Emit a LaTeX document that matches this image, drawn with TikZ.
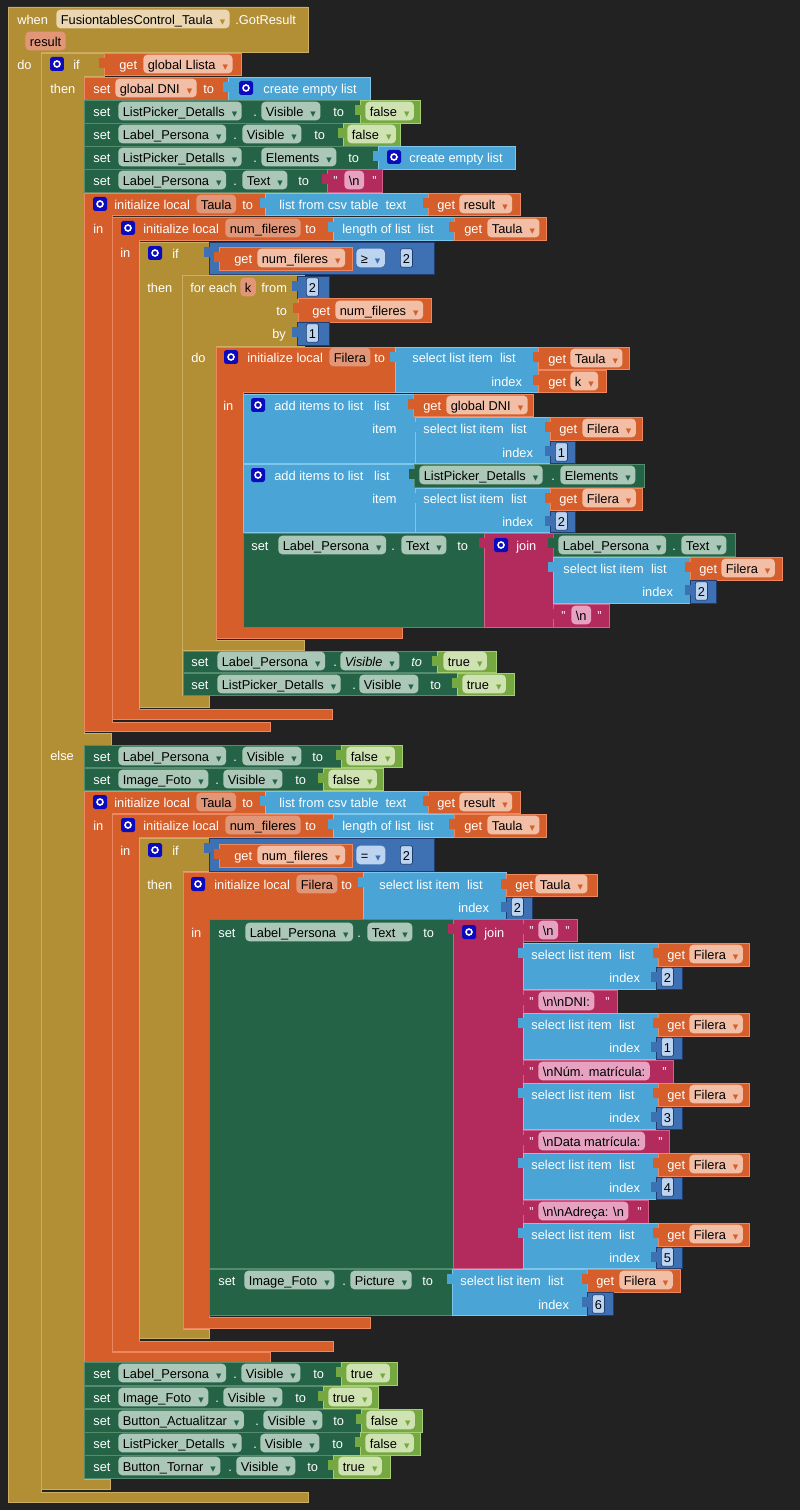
\documentclass[tikz,border=0pt]{standalone}
\usepackage{fontspec}
\setmainfont{Liberation Sans}
\newfontfamily\symf{DejaVu Sans}
\definecolor{bgcol}{RGB}{34,34,34}
\definecolor{evtcol}{RGB}{178,142,53}
\definecolor{evtedge}{RGB}{205,175,100}
\definecolor{varcol}{RGB}{214,94,42}
\definecolor{varedge}{RGB}{236,135,95}
\definecolor{cmpcol}{RGB}{36,99,70}
\definecolor{cmpedge}{RGB}{85,140,110}
\definecolor{lgcol}{RGB}{118,168,66}
\definecolor{lgedge}{RGB}{165,205,115}
\definecolor{lstcol}{RGB}{74,165,214}
\definecolor{lstedge}{RGB}{125,198,236}
\definecolor{numcol}{RGB}{62,112,180}
\definecolor{numedge}{RGB}{30,60,110}
\definecolor{txtcol}{RGB}{179,42,92}
\definecolor{txtedge}{RGB}{212,95,138}
\definecolor{gearcol}{RGB}{10,10,190}
\definecolor{pillor}{RGB}{242,190,166}
\definecolor{pillpar}{RGB}{226,150,120}
\definecolor{pillcmp}{RGB}{170,199,183}
\definecolor{pilllog}{RGB}{207,226,178}
\definecolor{pilltxt}{RGB}{230,162,192}
\definecolor{pillevt}{RGB}{234,214,176}
\definecolor{pillmath}{RGB}{188,212,240}
\newcommand{\bfont}{\fontsize{7.3}{8}\selectfont}
\newcommand{\dd}[1]{\hspace{0.55em}{\symf\fontsize{4}{5}\selectfont\textcolor{#1}{▼}}}
% value block with its left tab
\newcommand{\vb}[5]{\draw[#1] (#2,#3) rectangle (#4,#5); \fill[#1,draw=none] (#2-5,#3+5) rectangle (#2+1,#3+15);}
\begin{document}
\begin{tikzpicture}[x=0.02cm, y=-0.02cm,
    lbl/.style={anchor=west, inner sep=0, text=white, font=\bfont, text height=1.6ex, text depth=.4ex},
    pill/.style={anchor=west, inner xsep=0.09cm, inner ysep=0, minimum height=0.3cm, rounded corners=0.08cm,
      text=black, font=\bfont, text height=1.6ex, text depth=.4ex},
    pillO/.style={pill, fill=pillor},
    pillP/.style={pill, fill=pillpar},
    pillC/.style={pill, fill=pillcmp},
    pillL/.style={pill, fill=pilllog},
    pillT/.style={pill, fill=pilltxt},
    pillE/.style={pill, fill=pillevt},
    pillM/.style={pill, fill=pillmath},
    numpill/.style={pill, fill=pillmath, draw=numedge, rounded corners=0.04cm, inner xsep=0.05cm},
    gear/.style={fill=gearcol, rounded corners=1pt, minimum size=0.28cm, inner sep=0,
      path picture={\draw[white, line width=0.9pt] (path picture bounding box.center) circle (0.06cm);}},
    evt/.style={fill=evtcol, draw=evtedge, line width=.3pt},
    var/.style={fill=varcol, draw=varedge, line width=.3pt},
    cmp/.style={fill=cmpcol, draw=cmpedge, line width=.3pt},
    lgc/.style={fill=lgcol, draw=lgedge, line width=.3pt},
    lst/.style={fill=lstcol, draw=lstedge, line width=.3pt},
    num/.style={fill=numcol, draw=numedge, line width=.3pt},
    txt/.style={fill=txtcol, draw=txtedge, line width=.3pt}]
  \fill[bgcol] (0,0) rectangle (800,1510);
  % event and outer if
  \draw[evt] (8,7) -- (308,7) -- (308,52) -- (41,52) -- (41,1492) -- (308,1492) -- (308,1502) -- (8,1502) -- cycle;
  \node[lbl] (when) at (17,19) {when};
  \node[pillE] (evcomp) at (56,19) {FusiontablesControl\_Taula\dd{evtcol}};
  \node[lbl] (gotres) at (235,19) {.GotResult};
  \node[pillP] (res) at (25,41) {result};
  \node[lbl] (do0) at (17,64) {do};
  \draw[evt] (41,53) -- (104,53) -- (104,76) -- (84,76) -- (84,733) -- (111,733) -- (111,745) -- (84,745)
    -- (84,1479) -- (110,1479) -- (110,1489) -- (41,1489) -- cycle;
  \node[gear] (gif0) at (57,64) {};
  \node[lbl] (if0) at (73,64) {if};
  \vb{var}{104}{53}{241}{75}
  \node[lbl] (gLl) at (119,64) {get};
  \node[pillO] (pLl) at (143,64) {global Llista\dd{varcol}};
  \node[lbl] (then0) at (50,88) {then};
  % then: first setters
  \draw[var] (84,77) rectangle (228,100);
  \node[lbl] (sA) at (93,88) {set};
  \node[pillO] (pA) at (115,88) {global DNI\dd{varcol}};
  \node[lbl] (tA) at (203,88) {to};
  \vb{lst}{228}{77}{370}{100}
  \node[gear] (gA) at (246,88) {};
  \node[lbl] (cA) at (263,88) {create empty list};
  \draw[cmp] (84,100) rectangle (360,123);
  \node[lbl] (sB) at (93,111) {set};
  \node[pillC] (pB) at (118,111) {ListPicker\_Detalls\dd{cmpcol}};
  \node[lbl] (dB) at (253,111) {.};
  \node[pillC] (qB) at (261,111) {Visible\dd{cmpcol}};
  \node[lbl] (tB) at (333,111) {to};
  \vb{lgc}{360}{100}{420}{123}
  \node[pillL] (lB) at (365,111) {false\dd{lgcol}};
  \draw[cmp] (84,123) rectangle (343,146);
  \node[lbl] (sC) at (93,134) {set};
  \node[pillC] (pC) at (118,134) {Label\_Persona\dd{cmpcol}};
  \node[lbl] (dC) at (233,134) {.};
  \node[pillC] (qC) at (242,134) {Visible\dd{cmpcol}};
  \node[lbl] (tC) at (314,134) {to};
  \vb{lgc}{343}{123}{400}{146}
  \node[pillL] (lC) at (347,134) {false\dd{lgcol}};
  \draw[cmp] (84,146) rectangle (378,169);
  \node[lbl] (sD) at (93,157) {set};
  \node[pillC] (pD) at (118,157) {ListPicker\_Detalls\dd{cmpcol}};
  \node[lbl] (dD) at (253,157) {.};
  \node[pillC] (qD) at (261,157) {Elements\dd{cmpcol}};
  \node[lbl] (tD) at (348,157) {to};
  \vb{lst}{378}{146}{515}{169}
  \node[gear] (gD) at (394,157) {};
  \node[lbl] (cD) at (409,157) {create empty list};
  \draw[cmp] (84,169) rectangle (327,192);
  \node[lbl] (sE) at (93,180) {set};
  \node[pillC] (pE) at (118,180) {Label\_Persona\dd{cmpcol}};
  \node[lbl] (dE) at (233,180) {.};
  \node[pillC] (qE) at (242,180) {Text\dd{cmpcol}};
  \node[lbl] (tE) at (298,180) {to};
  \vb{txt}{327}{169}{382}{192}
  \node[lbl] (oE) at (333,180) {"};
  \node[pillT] (xE) at (344,180) {\textbackslash n};
  \node[lbl] (cE) at (372,180) {"};
  % then: local Taula
  \draw[var] (84,193) -- (265,193) -- (265,215) -- (112,215) -- (112,722) -- (270,722) -- (270,731) -- (84,731) -- cycle;
  \node[gear] (gTa) at (100,204) {};
  \node[lbl] (iTa) at (114,204) {initialize local};
  \node[pillP] (pTa) at (196,204) {Taula};
  \node[lbl] (tTa) at (242,204) {to};
  \vb{lst}{265}{193}{428}{215}
  \node[lbl] (cTa) at (279,204) {list from csv table\ \ text};
  \vb{var}{428}{193}{520}{215}
  \node[lbl] (gRe) at (437,204) {get};
  \node[pillO] (pRe) at (459,204) {result\dd{varcol}};
  \node[lbl] (inTa) at (93,228) {in};
  \draw[var] (112,217) -- (333,217) -- (333,240) -- (139,240) -- (139,709) -- (332,709) -- (332,719) -- (112,719) -- cycle;
  \node[gear] (gNf) at (128,228) {};
  \node[lbl] (iNf) at (143,228) {initialize local};
  \node[pillP] (pNf) at (225,228) {num\_fileres};
  \node[lbl] (tNf) at (305,228) {to};
  \vb{lst}{333}{217}{454}{240}
  \node[lbl] (lNf) at (342,228) {length of list\ \ list};
  \vb{var}{454}{217}{546}{240}
  \node[lbl] (gNt) at (464,228) {get};
  \node[pillO] (pNt) at (487,228) {Taula\dd{varcol}};
  \node[lbl] (inNf) at (120,252) {in};
  % then: inner if
  \draw[evt] (139,242) -- (209,242) -- (209,275) -- (182,275) -- (182,695) -- (209,695) -- (209,707) -- (139,707) -- cycle;
  \node[gear] (gif1) at (155,253) {};
  \node[lbl] (if1) at (172,253) {if};
  \vb{num}{209}{242}{434}{274}
  \vb{var}{219}{247}{352}{270}
  \node[lbl] (gC1) at (234,258) {get};
  \node[pillO] (pC1) at (257,258) {num\_fileres\dd{varcol}};
  \node[pillM] (oC1) at (356,258) {≥\dd{numcol}};
  \node[numpill] (nC1) at (400,258) {2};
  \node[lbl] (then1) at (147,287) {then};
  % then: for each
  \draw[evt] (182,275) -- (304,275) -- (304,346) -- (216,346) -- (216,640) -- (304,640) -- (304,650) -- (182,650) -- cycle;
  \node[lbl] (fe) at (190,287) {for each};
  \node[pillP] (pk) at (240,287) {k};
  \node[lbl] (fr) at (261,287) {from};
  \vb{num}{297}{276}{329}{298}
  \node[numpill] (nfr) at (306,287) {2};
  \node[lbl] (fto) at (276,310) {to};
  \vb{var}{298}{298}{431}{322}
  \node[lbl] (gto) at (312,310) {get};
  \node[pillO] (pto) at (335,310) {num\_fileres\dd{varcol}};
  \node[lbl] (fby) at (272,333) {by};
  \vb{num}{297}{322}{329}{345}
  \node[numpill] (nby) at (306,333) {1};
  \node[lbl] (fdo) at (191,357) {do};
  % then: local Filera
  \draw[var] (216,347) -- (395,347) -- (395,392) -- (243,392) -- (243,627) -- (402,627) -- (402,638) -- (216,638) -- cycle;
  \node[gear] (gFi) at (231,357) {};
  \node[lbl] (iFi) at (247,357) {initialize local};
  \node[pillP] (pFi) at (329,357) {Filera};
  \node[lbl] (tFi) at (374,357) {to};
  \vb{lst}{395}{347}{538}{392}
  \node[lbl] (sFi) at (412,357) {select list item\ \ list};
  \node[lbl] (xFi) at (491,381) {index};
  \vb{var}{538}{347}{629}{369}
  \node[lbl] (gFt) at (548,358) {get};
  \node[pillO] (pFt) at (570,358) {Taula\dd{varcol}};
  \vb{var}{538}{370}{606}{392}
  \node[lbl] (gFk) at (548,381) {get};
  \node[pillO] (pFk) at (570,381) {k\dd{varcol}};
  \node[lbl] (inFi) at (223,405) {in};
  % add items 1
  \draw[lst] (243,394) rectangle (415,463);
  \node[gear] (gAd1) at (258,405) {};
  \node[lbl] (aAd1) at (274,405) {add items to list\ \ \ list};
  \node[lbl] (iAd1) at (372,428) {item};
  \vb{var}{413}{394}{533}{416}
  \node[lbl] (gDn) at (423,405) {get};
  \node[pillO] (pDn) at (446,405) {global DNI\dd{varcol}};
  \vb{lst}{415}{417}{550}{463}
  \node[lbl] (sAd1) at (423,428) {select list item\ \ list};
  \node[lbl] (xAd1) at (502,452) {index};
  \vb{var}{550}{417}{642}{440}
  \node[lbl] (gAf1) at (559,428) {get};
  \node[pillO] (pAf1) at (582,428) {Filera\dd{varcol}};
  \vb{num}{550}{441}{575}{463}
  \node[numpill] (nAd1) at (555,452) {1};
  % add items 2
  \draw[lst] (243,464) rectangle (415,532);
  \node[gear] (gAd2) at (258,475) {};
  \node[lbl] (aAd2) at (274,475) {add items to list\ \ \ list};
  \node[lbl] (iAd2) at (372,498) {item};
  \vb{cmp}{414}{464}{644}{487}
  \node[pillC] (pEl) at (419,475) {ListPicker\_Detalls\dd{cmpcol}};
  \node[lbl] (dEl) at (551,475) {.};
  \node[pillC] (qEl) at (560,475) {Elements\dd{cmpcol}};
  \vb{lst}{415}{488}{550}{532}
  \node[lbl] (sAd2) at (423,498) {select list item\ \ list};
  \node[lbl] (xAd2) at (502,521) {index};
  \vb{var}{550}{488}{642}{510}
  \node[lbl] (gAf2) at (559,498) {get};
  \node[pillO] (pAf2) at (582,498) {Filera\dd{varcol}};
  \vb{num}{550}{511}{575}{532}
  \node[numpill] (nAd2) at (555,521) {2};
  % set text with join
  \draw[cmp] (243,533) rectangle (484,627);
  \node[lbl] (sJ1) at (251,545) {set};
  \node[pillC] (pJ1) at (278,545) {Label\_Persona\dd{cmpcol}};
  \node[lbl] (dJ1) at (391,545) {.};
  \node[pillC] (qJ1) at (401,545) {Text\dd{cmpcol}};
  \node[lbl] (tJ1) at (457,545) {to};
  \vb{txt}{484}{533}{553}{627}
  \node[gear] (gJ1) at (501,545) {};
  \node[lbl] (jJ1) at (516,545) {join};
  \vb{cmp}{553}{533}{735}{556}
  \node[pillC] (pJ1b) at (558,545) {Label\_Persona\dd{cmpcol}};
  \node[lbl] (dJ1b) at (672,545) {.};
  \node[pillC] (qJ1b) at (681,545) {Text\dd{cmpcol}};
  \vb{lst}{553}{557}{690}{603}
  \node[lbl] (sJ1c) at (563,568) {select list item\ \ list};
  \node[lbl] (xJ1c) at (642,591) {index};
  \vb{var}{690}{557}{782}{580}
  \node[lbl] (gJ1c) at (699,568) {get};
  \node[pillO] (pJ1c) at (721,568) {Filera\dd{varcol}};
  \vb{num}{690}{580}{716}{603}
  \node[numpill] (nJ1c) at (695,591) {2};
  \vb{txt}{553}{604}{609}{627}
  \node[lbl] (oJ1d) at (561,615) {"};
  \node[pillT] (xJ1d) at (571,615) {\textbackslash n};
  \node[lbl] (cJ1d) at (597,615) {"};
  % after the loop
  \draw[cmp] (183,651) rectangle (437,672);
  \node[lbl] (sF) at (191,661) {set};
  \node[pillC] (pF) at (217,661) {Label\_Persona\dd{cmpcol}};
  \node[lbl] (dF) at (333,661) {.};
  \node[pillC] (qF) at (340,661) {\itshape Visible\dd{cmpcol}};
  \node[lbl] (tF) at (411,661) {\itshape to};
  \vb{lgc}{437}{651}{496}{672}
  \node[pillL] (lF) at (443,661) {true\dd{lgcol}};
  \draw[cmp] (183,673) rectangle (457,695);
  \node[lbl] (sG) at (191,684) {set};
  \node[pillC] (pG) at (217,684) {ListPicker\_Detalls\dd{cmpcol}};
  \node[lbl] (dG) at (352,684) {.};
  \node[pillC] (qG) at (359,684) {Visible\dd{cmpcol}};
  \node[lbl] (tG) at (430,684) {to};
  \vb{lgc}{457}{673}{514}{695}
  \node[pillL] (lG) at (462,684) {true\dd{lgcol}};
  % else
  \node[lbl] (else0) at (50,755) {else};
  \draw[cmp] (84,745) rectangle (341,767);
  \node[lbl] (sH) at (93,756) {set};
  \node[pillC] (pH) at (118,756) {Label\_Persona\dd{cmpcol}};
  \node[lbl] (dH) at (233,756) {.};
  \node[pillC] (qH) at (242,756) {Visible\dd{cmpcol}};
  \node[lbl] (tH) at (312,756) {to};
  \vb{lgc}{341}{745}{402}{767}
  \node[pillL] (lH) at (346,756) {false\dd{lgcol}};
  \draw[cmp] (84,768) rectangle (323,790);
  \node[lbl] (sI) at (93,779) {set};
  \node[pillC] (pI) at (118,779) {Image\_Foto\dd{cmpcol}};
  \node[lbl] (dI) at (215,779) {.};
  \node[pillC] (qI) at (223,779) {Visible\dd{cmpcol}};
  \node[lbl] (tI) at (295,779) {to};
  \vb{lgc}{323}{768}{383}{790}
  \node[pillL] (lI) at (328,779) {false\dd{lgcol}};
  % else: local Taula
  \draw[var] (84,791) -- (265,791) -- (265,813) -- (112,813) -- (112,1352) -- (270,1352) -- (270,1362) -- (84,1362) -- cycle;
  \node[gear] (gTb) at (100,802) {};
  \node[lbl] (iTb) at (114,802) {initialize local};
  \node[pillP] (pTb) at (196,802) {Taula};
  \node[lbl] (tTb) at (242,802) {to};
  \vb{lst}{265}{791}{428}{813}
  \node[lbl] (cTb) at (279,802) {list from csv table\ \ text};
  \vb{var}{428}{791}{520}{813}
  \node[lbl] (gRb) at (437,802) {get};
  \node[pillO] (pRb) at (459,802) {result\dd{varcol}};
  \node[lbl] (inTb) at (93,825) {in};
  \draw[var] (112,814) -- (333,814) -- (333,837) -- (139,837) -- (139,1341) -- (333,1341) -- (333,1351) -- (112,1351) -- cycle;
  \node[gear] (gNb) at (128,825) {};
  \node[lbl] (iNb) at (143,825) {initialize local};
  \node[pillP] (pNb) at (225,825) {num\_fileres};
  \node[lbl] (tNb) at (305,825) {to};
  \vb{lst}{333}{814}{454}{837}
  \node[lbl] (lNb) at (342,825) {length of list\ \ list};
  \vb{var}{454}{814}{546}{837}
  \node[lbl] (gNbt) at (464,825) {get};
  \node[pillO] (pNbt) at (487,825) {Taula\dd{varcol}};
  \node[lbl] (inNb) at (120,850) {in};
  % else: inner if
  \draw[evt] (139,838) -- (209,838) -- (209,871) -- (183,871) -- (183,1329) -- (209,1329) -- (209,1338) -- (139,1338) -- cycle;
  \node[gear] (gif2) at (155,850) {};
  \node[lbl] (if2) at (172,850) {if};
  \vb{num}{209}{838}{434}{871}
  \vb{var}{219}{844}{352}{867}
  \node[lbl] (gC2) at (234,855) {get};
  \node[pillO] (pC2) at (257,855) {num\_fileres\dd{varcol}};
  \node[pillM] (oC2) at (356,855) {=\dd{numcol}};
  \node[numpill] (nC2) at (400,855) {2};
  \node[lbl] (then2) at (147,884) {then};
  % else: local Filera
  \draw[var] (183,872) -- (363,872) -- (363,919) -- (209,919) -- (209,1317) -- (370,1317) -- (370,1328) -- (183,1328) -- cycle;
  \node[gear] (gFb) at (198,884) {};
  \node[lbl] (iFb) at (214,884) {initialize local};
  \node[pillP] (pFb) at (296,884) {Filera};
  \node[lbl] (tFb) at (341,884) {to};
  \vb{lst}{363}{872}{506}{919}
  \node[lbl] (sFb) at (379,884) {select list item\ \ list};
  \node[lbl] (xFb) at (458,907) {index};
  \vb{var}{506}{874}{597}{896}
  \node[lbl] (gFbt) at (515,884) {get};
  \node[pillO] (pFbt) at (535,884) {Taula\dd{varcol}};
  \vb{num}{506}{897}{532}{919}
  \node[numpill] (nFb) at (511,907) {2};
  \node[lbl] (inFb) at (191,932) {in};
  % else: set text with long join
  \draw[cmp] (209,919) rectangle (453,1268);
  \node[lbl] (sJ2) at (218,932) {set};
  \node[pillC] (pJ2) at (245,932) {Label\_Persona\dd{cmpcol}};
  \node[lbl] (dJ2) at (357,932) {.};
  \node[pillC] (qJ2) at (367,932) {Text\dd{cmpcol}};
  \node[lbl] (tJ2) at (423,932) {to};
  \vb{txt}{453}{919}{523}{1268}
  \node[gear] (gJ2) at (469,932) {};
  \node[lbl] (jJ2) at (484,932) {join};
  \vb{txt}{523}{919}{577}{941}
  \node[lbl] (oK0) at (529,930) {"};
  \node[pillT] (xK0) at (538,930) {\textbackslash n};
  \node[lbl] (cK0) at (565,930) {"};
  \vb{lst}{523}{943}{658}{989}
  \node[lbl] (sK1) at (531,954) {select list item\ \ list};
  \node[lbl] (xK1) at (609,977) {index};
  \vb{var}{658}{943}{749}{966}
  \node[lbl] (gK1) at (667,954) {get};
  \node[pillO] (pK1) at (689,954) {Filera\dd{varcol}};
  \vb{num}{656}{967}{682}{989}
  \node[numpill] (nK1) at (661,977) {2};
  \vb{txt}{523}{990}{617}{1013}
  \node[lbl] (oK2) at (529,1001) {"};
  \node[pillT] (xK2) at (538,1001) {\textbackslash n\textbackslash nDNI:};
  \node[lbl] (cK2) at (605,1001) {"};
  \vb{lst}{523}{1013}{658}{1059}
  \node[lbl] (sK3) at (531,1024) {select list item\ \ list};
  \node[lbl] (xK3) at (609,1047) {index};
  \vb{var}{658}{1013}{749}{1036}
  \node[lbl] (gK3) at (667,1024) {get};
  \node[pillO] (pK3) at (689,1024) {Filera\dd{varcol}};
  \vb{num}{656}{1037}{682}{1059}
  \node[numpill] (nK3) at (661,1047) {1};
  \vb{txt}{523}{1060}{673}{1083}
  \node[lbl] (oK4) at (529,1071) {"};
  \node[pillT] (xK4) at (538,1071) {\textbackslash nNúm. matrícula:};
  \node[lbl] (cK4) at (662,1071) {"};
  \vb{lst}{523}{1083}{658}{1129}
  \node[lbl] (sK5) at (531,1094) {select list item\ \ list};
  \node[lbl] (xK5) at (609,1117) {index};
  \vb{var}{658}{1083}{749}{1106}
  \node[lbl] (gK5) at (667,1094) {get};
  \node[pillO] (pK5) at (689,1094) {Filera\dd{varcol}};
  \vb{num}{656}{1107}{682}{1129}
  \node[numpill] (nK5) at (661,1117) {3};
  \vb{txt}{523}{1130}{669}{1153}
  \node[lbl] (oK6) at (529,1141) {"};
  \node[pillT] (xK6) at (538,1141) {\textbackslash nData matrícula:};
  \node[lbl] (cK6) at (658,1141) {"};
  \vb{lst}{523}{1153}{658}{1199}
  \node[lbl] (sK7) at (531,1164) {select list item\ \ list};
  \node[lbl] (xK7) at (609,1187) {index};
  \vb{var}{658}{1153}{749}{1176}
  \node[lbl] (gK7) at (667,1164) {get};
  \node[pillO] (pK7) at (689,1164) {Filera\dd{varcol}};
  \vb{num}{656}{1177}{682}{1199}
  \node[numpill] (nK7) at (661,1187) {4};
  \vb{txt}{523}{1200}{648}{1223}
  \node[lbl] (oK8) at (529,1211) {"};
  \node[pillT] (xK8) at (538,1211) {\textbackslash n\textbackslash nAdreça: \textbackslash n};
  \node[lbl] (cK8) at (637,1211) {"};
  \vb{lst}{523}{1223}{658}{1268}
  \node[lbl] (sK9) at (531,1234) {select list item\ \ list};
  \node[lbl] (xK9) at (609,1257) {index};
  \vb{var}{658}{1223}{749}{1246}
  \node[lbl] (gK9) at (667,1234) {get};
  \node[pillO] (pK9) at (689,1234) {Filera\dd{varcol}};
  \vb{num}{656}{1247}{682}{1268}
  \node[numpill] (nK9) at (661,1257) {5};
  % else: picture
  \draw[cmp] (209,1269) rectangle (452,1315);
  \node[lbl] (sP) at (218,1280) {set};
  \node[pillC] (pP) at (244,1280) {Image\_Foto\dd{cmpcol}};
  \node[lbl] (dP) at (342,1280) {.};
  \node[pillC] (qP) at (350,1280) {Picture\dd{cmpcol}};
  \node[lbl] (tP) at (422,1280) {to};
  \vb{lst}{452}{1269}{587}{1315}
  \node[lbl] (sP2) at (460,1280) {select list item\ \ list};
  \node[lbl] (xP2) at (538,1304) {index};
  \vb{var}{587}{1269}{680}{1292}
  \node[lbl] (gP2) at (596,1280) {get};
  \node[pillO] (pP2) at (619,1280) {Filera\dd{varcol}};
  \vb{num}{587}{1292}{613}{1315}
  \node[numpill] (nP2) at (592,1304) {6};
  % else: last setters
  \draw[cmp] (84,1362) rectangle (341,1385);
  \node[lbl] (sL) at (93,1373) {set};
  \node[pillC] (pL) at (118,1373) {Label\_Persona\dd{cmpcol}};
  \node[lbl] (dL) at (233,1373) {.};
  \node[pillC] (qL) at (241,1373) {Visible\dd{cmpcol}};
  \node[lbl] (tL) at (313,1373) {to};
  \vb{lgc}{341}{1362}{397}{1385}
  \node[pillL] (lL) at (346,1373) {true\dd{lgcol}};
  \draw[cmp] (84,1386) rectangle (323,1408);
  \node[lbl] (sM) at (93,1397) {set};
  \node[pillC] (pM) at (118,1397) {Image\_Foto\dd{cmpcol}};
  \node[lbl] (dM) at (215,1397) {.};
  \node[pillC] (qM) at (223,1397) {Visible\dd{cmpcol}};
  \node[lbl] (tM) at (295,1397) {to};
  \vb{lgc}{323}{1386}{378}{1408}
  \node[pillL] (lM) at (328,1397) {true\dd{lgcol}};
  \draw[cmp] (84,1409) rectangle (361,1432);
  \node[lbl] (sN) at (93,1420) {set};
  \node[pillC] (pN) at (118,1420) {Button\_Actualitzar\dd{cmpcol}};
  \node[lbl] (dN) at (255,1420) {.};
  \node[pillC] (qN) at (263,1420) {Visible\dd{cmpcol}};
  \node[lbl] (tN) at (333,1420) {to};
  \vb{lgc}{361}{1409}{422}{1432}
  \node[pillL] (lN) at (366,1420) {false\dd{lgcol}};
  \draw[cmp] (84,1432) rectangle (360,1455);
  \node[lbl] (sO) at (93,1443) {set};
  \node[pillC] (pO) at (118,1443) {ListPicker\_Detalls\dd{cmpcol}};
  \node[lbl] (dO) at (253,1443) {.};
  \node[pillC] (qO) at (260,1443) {Visible\dd{cmpcol}};
  \node[lbl] (tO) at (332,1443) {to};
  \vb{lgc}{360}{1432}{420}{1455}
  \node[pillL] (lO) at (365,1443) {false\dd{lgcol}};
  \draw[cmp] (84,1455) rectangle (333,1478);
  \node[lbl] (sQ) at (93,1466) {set};
  \node[pillC] (pQ) at (118,1466) {Button\_Tornar\dd{cmpcol}};
  \node[lbl] (dQ) at (228,1466) {.};
  \node[pillC] (qQ) at (236,1466) {Visible\dd{cmpcol}};
  \node[lbl] (tQ) at (307,1466) {to};
  \vb{lgc}{333}{1455}{390}{1478}
  \node[pillL] (lQ) at (338,1466) {true\dd{lgcol}};
\end{tikzpicture}
\end{document}
